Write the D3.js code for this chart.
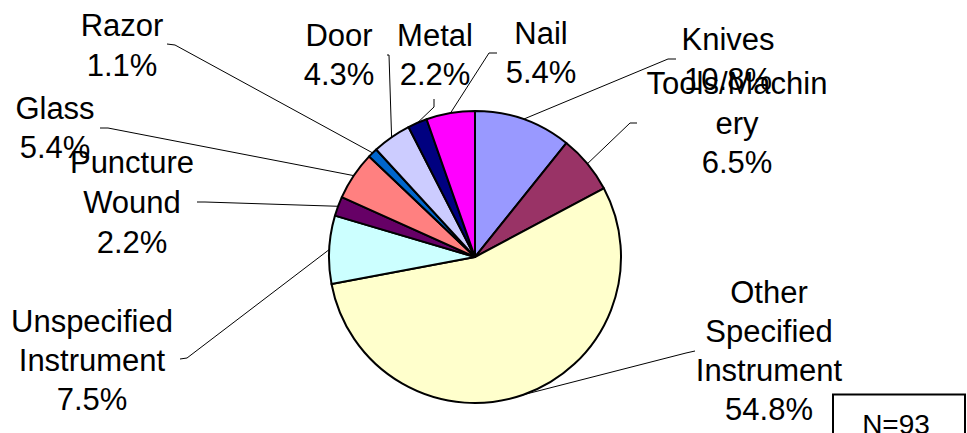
<!DOCTYPE html>
<html>
<head>
<meta charset="utf-8">
<script src="https://cdn.jsdelivr.net/npm/d3@7"></script>
<style>
  html, body { margin: 0; padding: 0; background: #fff; }
  svg { display: block; }
  text { font-family: "Liberation Sans", Arial, sans-serif; fill: #000; }
</style>
</head>
<body>
<svg id="chart" width="967" height="433"></svg>
<script>
// ---- data ----
const categories = ["Knives", "Tools/Machinery", "Other Specified Instrument", "Unspecified Instrument",
  "Puncture Wound", "Glass", "Razor", "Door", "Metal", "Nail"];
const counts = [10, 6, 51, 7, 2, 5, 1, 4, 2, 5];
const percentLabels = ["10.8%", "6.5%", "54.8%", "7.5%", "2.2%", "5.4%", "1.1%", "4.3%", "2.2%", "5.4%"];
const labelLines = [["Knives", "10.8%"], ["Tools/Machin", "ery", "6.5%"], ["Other", "Specified", "Instrument", "54.8%"],
  ["Unspecified", "Instrument", "7.5%"], ["Puncture", "Wound", "2.2%"], ["Glass", "5.4%"], ["Razor", "1.1%"],
  ["Door", "4.3%"], ["Metal", "2.2%"], ["Nail", "5.4%"]];
const colors = ["#9999FF", "#993366", "#FFFFCC", "#CCFFFF", "#660066", "#FF8080", "#0066CC", "#CCCCFF", "#000080", "#FF00FF"];
const totalN = "N=93";

// ---- layout (label positions: center x, first baseline y; leader start & elbow) ----
const labelLayout = [
  { x: 728, y: 50, lh: 40, start: [676, 59], elbow: [668, 59] },
  { x: 737, y: 94, lh: 39.5, start: [637, 123], elbow: [630, 123] },
  { x: 769, y: 303, lh: 39, start: [695, 351], elbow: [686, 353] },
  { x: 92, y: 332, lh: 39, start: [180, 359], elbow: [187, 358] },
  { x: 132, y: 173, lh: 40, start: [197, 202], elbow: [205, 202] },
  { x: 55, y: 119, lh: 39, start: [100, 128], elbow: [108, 128] },
  { x: 122, y: 36, lh: 40, start: [167, 44], elbow: [175, 45] },
  { x: 339, y: 46, lh: 39, start: [387, 55], elbow: [389, 55] },
  { x: 435, y: 46, lh: 39, start: [434, 99], elbow: [434, 107] },
  { x: 541, y: 44, lh: 39, start: [497, 53], elbow: [489, 53] }
];

const svg = d3.select("#chart");
const cx = 475, cy = 257, r = 146;

const pie = d3.pie().sort(null).value(d => d)(counts);
const arc = d3.arc().innerRadius(0).outerRadius(r);
const edgeArc = d3.arc().innerRadius(r).outerRadius(r);

const g = svg.append("g").attr("transform", `translate(${cx},${cy})`);
g.selectAll("path.slice").data(pie).enter().append("path")
  .attr("class", "slice")
  .attr("d", arc)
  .attr("fill", (d, i) => colors[i])
  .attr("stroke", "#000")
  .attr("stroke-width", 2)
  .attr("stroke-linejoin", "round");

// leader lines
const line = d3.line();
pie.forEach((d, i) => {
  const L = labelLayout[i];
  const p = edgeArc.centroid(d);
  const end = [p[0] + cx, p[1] + cy];
  svg.append("path")
    .attr("d", line([L.start, L.elbow, end]))
    .attr("fill", "none")
    .attr("stroke", "#000")
    .attr("stroke-width", 1);
});

// labels
labelLines.forEach((lines, i) => {
  const L = labelLayout[i];
  const t = svg.append("text")
    .attr("text-anchor", "middle")
    .attr("font-size", 31);
  lines.forEach((s, j) => {
    t.append("tspan").attr("x", L.x).attr("y", L.y + j * L.lh).text(s);
  });
});

// N box
svg.append("rect")
  .attr("x", 833).attr("y", 394.5).attr("width", 132).attr("height", 45)
  .attr("fill", "#fff").attr("stroke", "#000").attr("stroke-width", 2);
svg.append("text")
  .attr("x", 896).attr("y", 434)
  .attr("text-anchor", "middle")
  .attr("font-size", 28)
  .text(totalN);
</script>
</body>
</html>
